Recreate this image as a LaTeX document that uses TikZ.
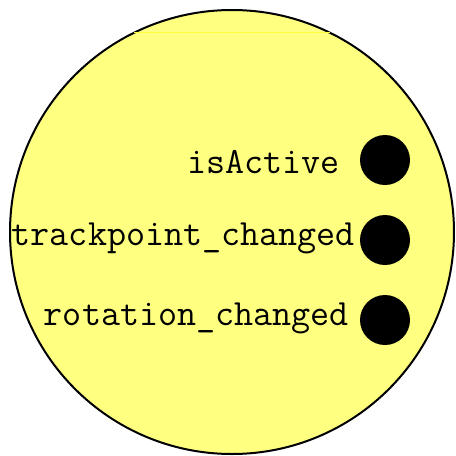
\documentclass[tikz,border=0pt]{standalone}
\usepackage{fontspec}
\usetikzlibrary{positioning}
\definecolor{cyellow}{HTML}{FFFF80}
\definecolor{cline}{HTML}{FFFF40}
\tikzset{
  every picture/.style={font=\ttfamily},
  body/.style={draw=black, line width=2pt, fill=cyellow, circle, inner sep=0pt, minimum size=444pt},
  port/.style={fill=black, circle, inner sep=0pt, minimum size=50pt},
  portlabel/.style={anchor=base east, inner sep=0pt, font=\ttfamily\fontsize{37}{40}\selectfont},
}
\begin{document}
\begin{tikzpicture}[x=1pt, y=-1pt]
  \useasboundingbox (0,0) rectangle (456,456);
  % component body
  \node[body] (comp) at (232,232) {};
  \draw[cline, line width=0.6pt] (134,32) -- (330,32);
  % ports
  \node[port] (active) at (385,160) {};
  \node[port] (track) at (385,240) {};
  \node[port] (rot) at (385,320) {};
  \node[portlabel] (activelbl) at (340,173) {isActive};
  \node[portlabel] (tracklbl) at (355,245) {trackpoint\_changed};
  \node[portlabel] (rotlbl) at (349,325) {rotation\_changed};
\end{tikzpicture}
\end{document}
